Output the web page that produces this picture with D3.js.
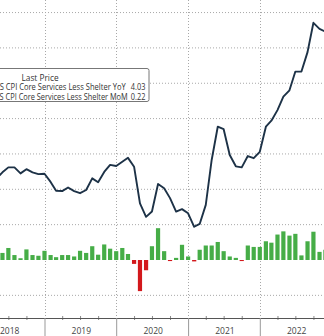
<!DOCTYPE html>
<html><head><meta charset="utf-8">
<script src="https://cdn.jsdelivr.net/npm/d3@7"></script>
<style>body{margin:0;background:#fff;overflow:hidden} svg{display:block}</style>
</head><body>
<svg id="c" width="324" height="336"></svg>
<script>
const months = [
 "2018-04","2018-05","2018-06","2018-07","2018-08","2018-09","2018-10","2018-11","2018-12",
 "2019-01","2019-02","2019-03","2019-04","2019-05","2019-06","2019-07","2019-08","2019-09","2019-10","2019-11","2019-12",
 "2020-01","2020-02","2020-03","2020-04","2020-05","2020-06","2020-07","2020-08","2020-09","2020-10","2020-11","2020-12",
 "2021-01","2021-02","2021-03","2021-04","2021-05","2021-06","2021-07","2021-08","2021-09","2021-10","2021-11","2021-12",
 "2022-01","2022-02","2022-03","2022-04","2022-05","2022-06","2022-07","2022-08","2022-09","2022-10","2022-11"];
const yoy = [
 2.30,2.48,2.62,2.62,2.45,2.57,2.48,2.43,2.44,
 2.21,1.96,1.95,2.05,1.95,1.89,1.98,2.31,2.20,2.49,2.69,2.66,
 2.78,2.89,2.64,1.60,1.22,1.37,2.15,2.03,1.75,1.37,1.44,1.32,
 0.94,1.02,1.56,2.83,3.77,3.70,2.97,2.65,2.62,2.94,2.88,3.06,
 3.77,3.94,4.24,4.62,4.80,5.33,5.33,5.88,6.71,6.54,6.46];
const mom = [
 0.25,0.20,0.34,0.14,0.05,0.30,0.14,0.12,0.26,
 0.14,0.08,0.14,0.14,0.10,0.26,0.20,0.39,0.15,0.44,0.32,0.25,
 0.34,0.17,-0.11,-0.88,-0.29,0.39,0.90,0.25,-0.03,0.06,0.43,0.10,
 -0.04,0.29,0.41,0.41,0.51,0.25,0.10,0.06,-0.03,0.41,0.37,0.37,
 0.53,0.49,0.72,0.81,0.69,0.74,0.13,0.53,0.80,0.23,0.29];
const yearLabels = ["2018","2019","2020","2021","2022"];
const gridValues = [-1,1,2,3,4,5,6,7];
const legendTitle = "Last Price";
const legendNames = ["US CPI Core Services Less Shelter YoY","US CPI Core Services Less Shelter MoM"];
const legendValues = ["4.03","0.22"];

const W = 324, H = 336, axisY = 318;
const svg = d3.select("#c");
const toDate = m => { const [y, mo] = m.split("-").map(Number); return new Date(y, mo, 1); };
const data = months.map((m, i) => ({ date: toDate(m), yoy: yoy[i], mom: mom[i] }));

const x = d3.scaleTime().domain([new Date(2019,0,1), new Date(2022,0,1)]).range([44.5, 259.8]);
const y = d3.scaleLinear().domain([0, 7]).range([260, 12.55]);

// horizontal grid
svg.append("g").selectAll("line").data(gridValues).join("line")
  .attr("x1", 0).attr("x2", W).attr("y1", d => y(d)).attr("y2", d => y(d))
  .attr("stroke", "#a8a8a8").attr("stroke-width", 1).attr("stroke-dasharray", "1,2");

// vertical grid at year boundaries
const yearStarts = [2019,2020,2021,2022].map(yr => new Date(yr,0,1));
svg.append("g").selectAll("line").data(yearStarts).join("line")
  .attr("x1", d => Math.round(x(d)) + 0.5).attr("x2", d => Math.round(x(d)) + 0.5)
  .attr("y1", 0).attr("y2", axisY)
  .attr("stroke", "#a8a8a8").attr("stroke-width", 1).attr("stroke-dasharray", "1,2");

// bars
const bw = 4.2;
svg.append("g").selectAll("rect").data(data).join("rect")
  .attr("x", d => x(d.date) - bw/2)
  .attr("width", bw)
  .attr("y", d => d.mom >= 0 ? y(d.mom) : y(0))
  .attr("height", d => Math.max(0.8, Math.abs(y(d.mom) - y(0))))
  .attr("fill", d => d.mom >= 0 ? "#46ad47" : "#d3181c");

// line
svg.append("path").datum(data)
  .attr("d", d3.line().x(d => x(d.date)).y(d => y(d.yoy)))
  .attr("fill", "none").attr("stroke", "#1d3247").attr("stroke-width", 1.9)
  .attr("stroke-linejoin", "round");

// x axis: minor quarter ticks
const quarters = d3.timeMonth.every(3).range(new Date(2018,0,1), new Date(2023,1,1))
  .filter(d => d.getMonth() !== 0);
const axMinor = svg.append("g").attr("transform", `translate(0,${axisY + 2})`)
  .call(d3.axisBottom(x).tickValues(quarters).tickSizeInner(-4).tickSizeOuter(0).tickFormat(""));
axMinor.select(".domain").remove();
axMinor.selectAll("line").attr("stroke", "#888");

const axMajor = svg.append("g").attr("transform", `translate(0,${axisY})`)
  .call(d3.axisBottom(x).tickValues(yearStarts).tickSizeInner(H - axisY).tickSizeOuter(0).tickFormat(""));
axMajor.select(".domain").attr("d", `M0,0.5H${W}`).attr("stroke", "#555");
axMajor.selectAll(".tick line").attr("stroke", "#999");

// year labels centered in year
svg.append("g").selectAll("text").data(yearLabels).join("text")
  .attr("x", d => (x(new Date(+d,0,1)) + x(new Date(+d+1,0,1))) / 2 + 1)
  .attr("y", 334)
  .attr("text-anchor", "middle")
  .attr("font-family", "Open Sans, Lato, sans-serif").attr("font-size", 8.5)
  .attr("fill", "#444").text(d => d);

// legend
const lg = svg.append("g");
lg.append("rect").attr("x", -40).attr("y", 68.5).attr("width", 189).attr("height", 33)
  .attr("rx", 2).attr("fill", "#fff").attr("stroke", "#777").attr("stroke-width", 1);
lg.append("text").attr("x", 40).attr("y", 80.5).attr("text-anchor", "middle")
  .attr("font-family", "Open Sans, Lato, sans-serif").attr("font-size", 8.3).attr("fill", "#333")
  .text(legendTitle);
legendNames.forEach((n, i) => {
  lg.append("text").attr("x", -5.8).attr("y", 90.2 + i*9.5)
    .attr("font-family", "Open Sans, Lato, sans-serif").attr("font-size", 8.3).attr("fill", "#333")
    .attr("textLength", i === 0 ? 131.5 : 133.5).attr("lengthAdjust", "spacingAndGlyphs")
    .text(n);
  lg.append("text").attr("x", 130.8).attr("y", 90.2 + i*9.5)
    .attr("font-family", "Open Sans, Lato, sans-serif").attr("font-size", 8.3).attr("fill", "#333")
    .attr("textLength", 14.6).attr("lengthAdjust", "spacingAndGlyphs")
    .text(legendValues[i]);
});
</script>
</body></html>
